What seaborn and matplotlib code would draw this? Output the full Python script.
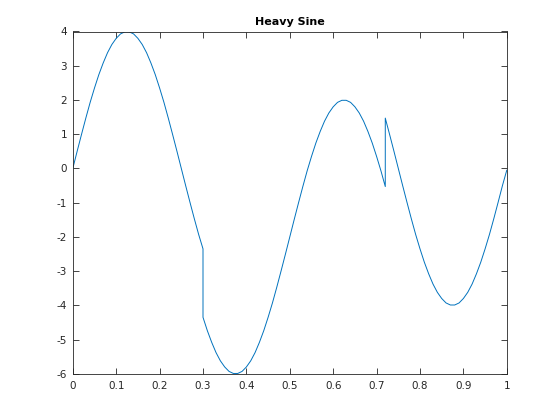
import numpy as np
import pandas as pd
import seaborn as sns
from matplotlib import pyplot as plt

# sample positions (0.01 apart, jumps at 0.30 and 0.72 listed twice)
T = [0.00, 0.01, 0.02, 0.03, 0.04, 0.05, 0.06, 0.07, 0.08, 0.09,
     0.10, 0.11, 0.12, 0.13, 0.14, 0.15, 0.16, 0.17, 0.18, 0.19,
     0.20, 0.21, 0.22, 0.23, 0.24, 0.25, 0.26, 0.27, 0.28, 0.29,
     0.30, 0.30, 0.31, 0.32, 0.33, 0.34, 0.35, 0.36, 0.37, 0.38, 0.39,
     0.40, 0.41, 0.42, 0.43, 0.44, 0.45, 0.46, 0.47, 0.48, 0.49,
     0.50, 0.51, 0.52, 0.53, 0.54, 0.55, 0.56, 0.57, 0.58, 0.59,
     0.60, 0.61, 0.62, 0.63, 0.64, 0.65, 0.66, 0.67, 0.68, 0.69,
     0.70, 0.71, 0.72, 0.72, 0.73, 0.74, 0.75, 0.76, 0.77, 0.78, 0.79,
     0.80, 0.81, 0.82, 0.83, 0.84, 0.85, 0.86, 0.87, 0.88, 0.89,
     0.90, 0.91, 0.92, 0.93, 0.94, 0.95, 0.96, 0.97, 0.98, 0.99, 1.00]

SIGNAL = [0.00, 0.50, 0.99, 1.47, 1.93, 2.35, 2.74, 3.08, 3.38, 3.62,
          3.80, 3.93, 3.99, 3.99, 3.93, 3.80, 3.62, 3.38, 3.08, 2.74,
          2.35, 1.93, 1.47, 0.99, 0.50, 0.00, -0.50, -0.99, -1.47, -1.93,
          -2.35, -4.35, -4.74, -5.08, -5.38, -5.62, -5.80, -5.93, -5.99, -5.99, -5.93,
          -5.80, -5.62, -5.38, -5.08, -4.74, -4.35, -3.93, -3.47, -2.99, -2.50,
          -2.00, -1.50, -1.01, -0.53, -0.07, 0.35, 0.74, 1.08, 1.38, 1.62,
          1.80, 1.93, 1.99, 1.99, 1.93, 1.80, 1.62, 1.38, 1.08, 0.74,
          0.35, -0.07, -0.53, 1.47, 0.99, 0.50, 0.00, -0.50, -0.99, -1.47, -1.93,
          -2.35, -2.74, -3.08, -3.38, -3.62, -3.80, -3.93, -3.99, -3.99, -3.93,
          -3.80, -3.62, -3.38, -3.08, -2.74, -2.35, -1.93, -1.47, -0.99, -0.50, -0.05]

df = pd.DataFrame({'t': T, 'y': SIGNAL})

sns.set_style('white')
plt.rcParams['font.family'] = ['DejaVu Sans']
plt.rcParams['axes.unicode_minus'] = False

fig = plt.figure(figsize=(5.6, 4.2), dpi=100)
ax = fig.add_axes([0.13, 0.11, 0.775, 0.815])

sns.lineplot(data=df, x='t', y='y', estimator=None, sort=False,
             color='#0072BD', linewidth=0.7, ax=ax)

ax.set_xlim(0, 1)
ax.set_ylim(-6, 4)
ax.set_xticks(np.arange(0, 1.01, 0.1))
ax.set_xticklabels(['0', '0.1', '0.2', '0.3', '0.4', '0.5', '0.6', '0.7', '0.8', '0.9', '1'])
ax.set_yticks(range(-6, 5))
ax.set_xlabel('')
ax.set_ylabel('')
ax.set_title('Heavy Sine', fontsize=8, fontweight='bold', color='black', pad=5)

for side in ax.spines.values():
    side.set_color('#262626')
    side.set_linewidth(0.6)
ax.tick_params(direction='in', length=4, width=0.6, color='#262626',
               labelsize=7.5, labelcolor='#262626',
               top=True, right=True, bottom=True, left=True)
ax.tick_params(axis='x', pad=5)
ax.tick_params(axis='y', pad=4)

fig.savefig('out.png', dpi=100)
